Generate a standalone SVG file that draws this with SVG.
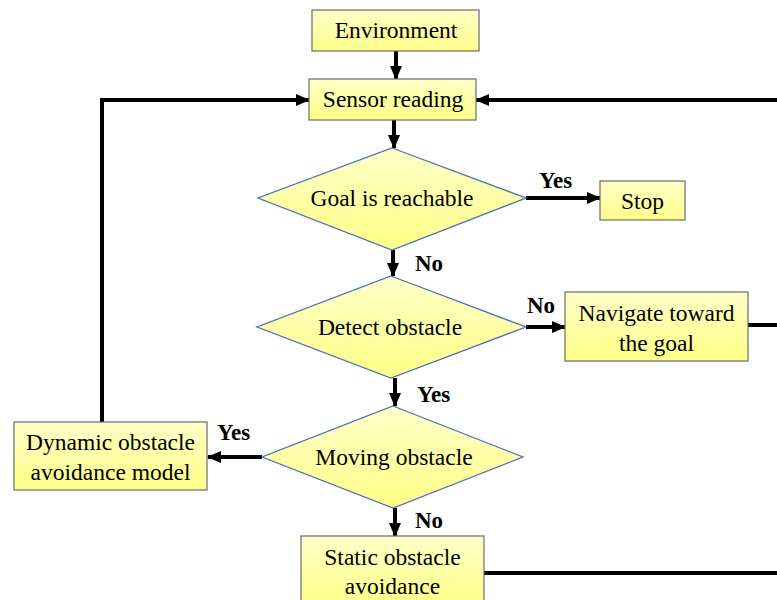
<svg xmlns="http://www.w3.org/2000/svg" width="777" height="600" viewBox="0 0 777 600">
  <defs>
    <linearGradient id="fillBox" x1="0" y1="0" x2="0" y2="1">
      <stop offset="0" stop-color="#ffffc8"/>
      <stop offset="1" stop-color="#ffff88"/>
    </linearGradient>
    <marker id="arrow" viewBox="0 0 14 12" refX="13" refY="6" markerWidth="14" markerHeight="12" markerUnits="userSpaceOnUse" orient="auto">
      <path d="M0,0 L14,6 L0,12 Z" fill="#000"/>
    </marker>
    <style>
      .box { fill: url(#fillBox); stroke: #6b6b6b; stroke-width: 1.2; }
      .dia { fill: url(#fillBox); stroke: #4a72b8; stroke-width: 1.3; }
      .lbl { font-family: "Liberation Serif", "Times New Roman", serif; font-size: 23.5px; fill: #000; text-anchor: middle; }
      .yn { font-family: "Liberation Serif", "Times New Roman", serif; font-size: 23px; font-weight: bold; fill: #000; }
      .wire { fill: none; stroke: #000; stroke-width: 4; }
      .arr { marker-end: url(#arrow); }
    </style>
  </defs>

  <!-- connectors -->
  <g id="connectors">
    <line class="wire arr" x1="396" y1="51" x2="396" y2="79"/>
    <line class="wire arr" x1="394" y1="120" x2="394" y2="148"/>
    <line class="wire arr" x1="526" y1="198" x2="600" y2="198"/>
    <line class="wire arr" x1="393" y1="250" x2="393" y2="276"/>
    <line class="wire arr" x1="526" y1="327" x2="565" y2="327"/>
    <line class="wire arr" x1="395" y1="378" x2="395" y2="406"/>
    <line class="wire arr" x1="262" y1="457" x2="208" y2="457"/>
    <line class="wire arr" x1="395" y1="508" x2="395" y2="536"/>
    <!-- loop from the dynamic avoidance box back to sensing -->
    <polyline class="wire arr" points="102,422 102,100 309,100"/>
    <!-- returns entering from the right side -->
    <line class="wire arr" x1="780" y1="100" x2="476" y2="100"/>
    <line class="wire" x1="748" y1="325" x2="780" y2="325"/>
    <line class="wire" x1="484" y1="573" x2="780" y2="573"/>
    <text class="yn" x="539" y="188">Yes</text>
    <text class="yn" x="415" y="271">No</text>
    <text class="yn" x="527" y="313">No</text>
    <text class="yn" x="417" y="402">Yes</text>
    <text class="yn" x="217" y="440">Yes</text>
    <text class="yn" x="415" y="528">No</text>
  </g>

  <g id="environment">
    <rect class="box" x="312" y="10" width="167" height="41"/>
    <text class="lbl" x="396" y="38">Environment</text>
  </g>

  <g id="sensor-reading">
    <rect class="box" x="309" y="79" width="167" height="41"/>
    <text class="lbl" x="393" y="107">Sensor reading</text>
  </g>

  <g id="goal-reachable">
    <polygon class="dia" points="392,148 526,198 392,250 258,198"/>
    <text class="lbl" x="392" y="206">Goal is reachable</text>
  </g>

  <g id="stop">
    <rect class="box" x="600" y="181" width="85" height="39"/>
    <text class="lbl" x="642.5" y="209">Stop</text>
  </g>

  <g id="detect-obstacle">
    <polygon class="dia" points="391,276 526,327 391,378 257,327"/>
    <text class="lbl" x="390" y="335">Detect obstacle</text>
  </g>

  <g id="navigate">
    <rect class="box" x="565" y="292" width="183" height="69"/>
    <text class="lbl" x="656.5" y="321">Navigate toward</text>
    <text class="lbl" x="656.5" y="351">the goal</text>
  </g>

  <g id="moving-obstacle">
    <polygon class="dia" points="393,406 523,457 393,508 262,457"/>
    <text class="lbl" x="394" y="465">Moving obstacle</text>
  </g>

  <g id="dynamic-avoidance">
    <rect class="box" x="14" y="422" width="193" height="68"/>
    <text class="lbl" x="110.5" y="450">Dynamic obstacle</text>
    <text class="lbl" x="110.5" y="480">avoidance model</text>
  </g>

  <g id="static-avoidance">
    <rect class="box" x="301" y="536" width="183" height="70"/>
    <text class="lbl" x="392.5" y="565">Static obstacle</text>
    <text class="lbl" x="392.5" y="594">avoidance</text>
  </g>
</svg>
